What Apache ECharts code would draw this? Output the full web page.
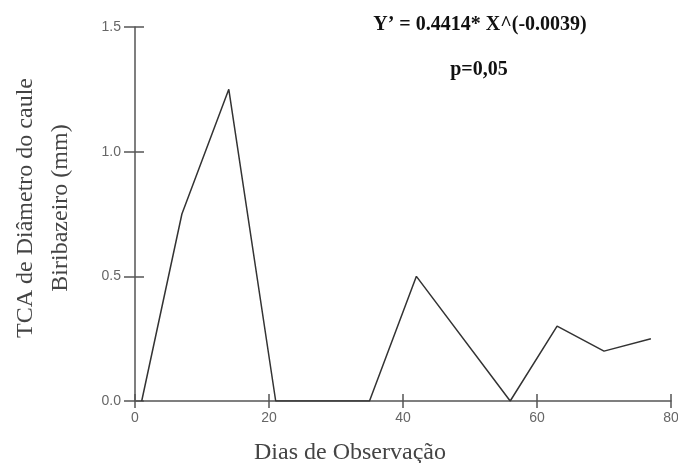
<!DOCTYPE html>
<html>
<head>
<meta charset="utf-8">
<script src="https://cdn.jsdelivr.net/npm/echarts@6/dist/echarts.min.js"></script>
<style>
  html, body { margin: 0; padding: 0; background: #fff; }
  #chart { width: 678px; height: 463px; }
</style>
</head>
<body>
<div id="chart"></div>
<script>
// dias de observacao e TCA
const dias = [1, 7, 14, 21, 35, 42, 56, 63, 70, 77]
const tca = [0, 0.75, 1.25, 0, 0, 0.5, 0, 0.3, 0.2, 0.25]
const xTicks = [0, 20, 40, 60, 80]
const yTicks = [0, 0.5, 1.0, 1.5]

const axisColor = '#555'
const serif = '"Liberation Serif", "DejaVu Serif", serif'
const sans = '"Liberation Sans", Arial, sans-serif'

const chart = echarts.init(document.getElementById('chart'))

const xBase = {
  type: 'value',
  min: xTicks[0],
  max: xTicks[xTicks.length - 1],
  interval: xTicks[1] - xTicks[0],
  splitLine: { show: false }
}
const yBase = {
  type: 'value',
  min: yTicks[0],
  max: yTicks[yTicks.length - 1],
  interval: yTicks[1] - yTicks[0],
  splitLine: { show: false }
}

const option = {
  animation: false,
  backgroundColor: '#fff',
  grid: { left: 135, right: 7, top: 27, bottom: 62, outerBoundsMode: 'none', containLabel: false },
  xAxis: [
    Object.assign({}, xBase, {
      axisLine: { show: true, lineStyle: { color: axisColor, width: 1.5 } },
      axisTick: { show: true, length: 7, lineStyle: { color: axisColor, width: 1.5 } },
      axisLabel: { fontFamily: sans, fontSize: 14, color: '#666', margin: 10 }
    }),
    Object.assign({}, xBase, {
      position: 'bottom',
      axisLine: { show: false },
      axisTick: { show: true, inside: true, length: 7, lineStyle: { color: axisColor, width: 1.5 } },
      axisLabel: { show: false }
    })
  ],
  yAxis: [
    Object.assign({}, yBase, {
      axisLine: { show: true, lineStyle: { color: axisColor, width: 1.5 } },
      axisTick: { show: true, length: 11, lineStyle: { color: axisColor, width: 1.5 } },
      axisLabel: {
        fontFamily: sans, fontSize: 14, color: '#666', margin: 14,
        formatter: v => v.toFixed(1)
      }
    }),
    Object.assign({}, yBase, {
      position: 'left',
      axisLine: { show: false },
      axisTick: { show: true, inside: true, length: 9, lineStyle: { color: axisColor, width: 1.5 } },
      axisLabel: { show: false }
    })
  ],
  series: [{
    type: 'line',
    data: dias.map((d, i) => [d, tca[i]]),
    symbol: 'none',
    lineStyle: { color: '#333', width: 1.5 },
    z: 3
  }],
  graphic: [
    {
      type: 'text', x: 350, y: 453,
      style: {
        text: 'Dias de Observação', font: '24px ' + serif, fill: '#444',
        align: 'center', verticalAlign: 'middle'
      }
    },
    {
      type: 'text', x: 43, y: 208, rotation: Math.PI / 2,
      style: {
        text: 'TCA de Diâmetro do caule\nBiribazeiro (mm)', font: '24px ' + serif, fill: '#444',
        align: 'center', verticalAlign: 'middle', lineHeight: 35
      }
    },
    {
      type: 'text', x: 480, y: 25,
      style: {
        text: 'Y’ = 0.4414* X^(-0.0039)', font: 'bold 20px ' + serif, fill: '#111',
        align: 'center', verticalAlign: 'middle'
      }
    },
    {
      type: 'text', x: 479, y: 70,
      style: {
        text: 'p=0,05', font: 'bold 20px ' + serif, fill: '#111',
        align: 'center', verticalAlign: 'middle'
      }
    }
  ]
}

chart.setOption(option)
</script>
</body>
</html>
